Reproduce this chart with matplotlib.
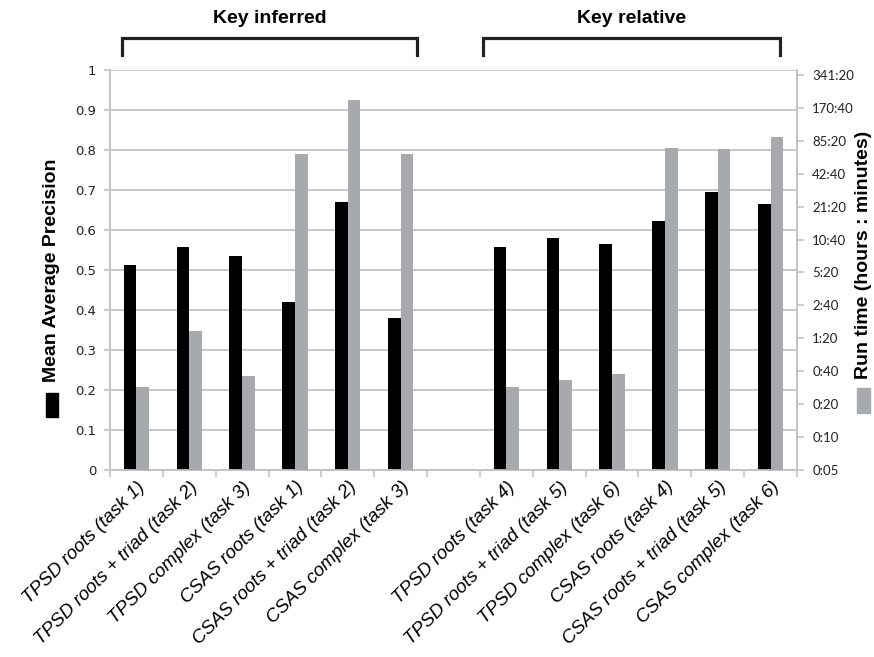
import numpy as np
import matplotlib
matplotlib.use('agg')
import matplotlib.pyplot as plt
from matplotlib.patches import Rectangle
from matplotlib.ticker import FixedLocator, FuncFormatter

# 13 slots, the 7th is the empty gap between the two groups
categories = ['TPSD roots (task 1)', 'TPSD roots + triad (task 2)', 'TPSD complex (task 3)',
              'CSAS roots (task 1)', 'CSAS roots + triad (task 2)', 'CSAS complex (task 3)',
              '',
              'TPSD roots (task 4)', 'TPSD roots + triad (task 5)', 'TPSD complex (task 6)',
              'CSAS roots (task 4)', 'CSAS roots + triad (task 5)', 'CSAS complex (task 6)']
map_vals = [0.512, 0.558, 0.535, 0.420, 0.670, 0.379, np.nan,
            0.558, 0.580, 0.564, 0.622, 0.695, 0.665]
runtime_min = [28.5, 93, 36, 3870, 12150, 3845, np.nan,
               28.5, 33, 37.5, 4390, 4270, 5600]
runtime_ticks = [5 * 2 ** k for k in range(13)]
groups = ['Key inferred', 'Key relative']

fig = plt.figure(figsize=(8.74, 6.57), dpi=100)
ax = fig.add_axes([110/874, 187/657, 687/874, 400/657])
ax2 = ax.twinx()

x = np.arange(len(categories))
w = 0.24
ax.bar(x - w/2, map_vals, width=w, color='black', zorder=3)
ax2.bar(x + w/2, runtime_min, width=w, color='#a7a9ac', zorder=3)

gc = '#c4c4c4'
ax.set_xlim(-0.5, len(categories) - 0.5)
ax.set_ylim(0, 1)
ax.set_yticks(np.arange(0, 1.01, 0.1))
ax.set_yticklabels(['0', '0.1', '0.2', '0.3', '0.4', '0.5', '0.6', '0.7', '0.8', '0.9', '1'],
                   fontsize=9.5, color='#222222')
ax.yaxis.grid(True, color=gc, linewidth=1.3, zorder=0)
ax.set_axisbelow(True)

ax.set_xticks(x)
ax.set_xticklabels(categories, rotation=45, ha='right', va='top', rotation_mode='anchor',
                   fontsize=13.5, style='italic', family='Liberation Sans')
ax.tick_params(axis='x', length=0, pad=6)
ax.xaxis.set_minor_locator(FixedLocator(np.arange(-0.5, len(categories), 1.0)))
ax.tick_params(axis='x', which='minor', length=5, color=gc, width=1.2)
ax.tick_params(axis='y', length=4, color=gc, width=1.2, pad=6)

ax2.set_yscale('log', base=2)
ax2.set_ylim(5, 5 * 2 ** 12.15)
ax2.yaxis.set_major_locator(FixedLocator(runtime_ticks))
ax2.yaxis.set_minor_locator(FixedLocator([]))
ax2.yaxis.set_major_formatter(FuncFormatter(lambda m, p: '%d:%02d' % (int(m // 60), int(round(m % 60)))))
ax2.tick_params(axis='y', length=5, color=gc, width=1.2, labelsize=9.5, pad=6, labelcolor='#222222')
for lab in ax2.get_yticklabels():
    lab.set_family('Lato')

for a in (ax, ax2):
    a.spines['top'].set_visible(False)
    for s in ('left', 'right', 'bottom'):
        a.spines[s].set_color(gc)
        a.spines[s].set_linewidth(1.3)

# group brackets above the plot
tr = ax.get_xaxis_transform()
spans = [(-0.28, 5.31), (6.56, 12.18)]
for (x0, x1), name in zip(spans, groups):
    ax.plot([x0, x0, x1, x1], [1.0375, 1.081, 1.081, 1.0375], color='#222222', lw=2.3,
            transform=tr, clip_on=False, solid_joinstyle='miter')
    ax.text((x0 + x1) / 2, 1.128, name, transform=tr, ha='center', va='center',
            fontsize=14, fontweight='bold', family='Liberation Sans')

# axis titles with legend keys
fig.text(51.7/874, 1 - 270/657, 'Mean Average Precision', rotation=90, ha='center', va='center',
         fontsize=14, fontweight='bold', family='Liberation Sans')
fig.add_artist(Rectangle((46/874, 1 - 417/657), 12/874, 24/657, color='black',
                         transform=fig.transFigure))
fig.text(863/874, 1 - 255/657, 'Run time (hours : minutes)', rotation=90, ha='center', va='center',
         fontsize=14, fontweight='bold', family='Liberation Sans')
fig.add_artist(Rectangle((857/874, 1 - 413/657), 13/874, 25/657, color='#a7a9ac',
                         transform=fig.transFigure))

plt.savefig('out.png', dpi=100)
